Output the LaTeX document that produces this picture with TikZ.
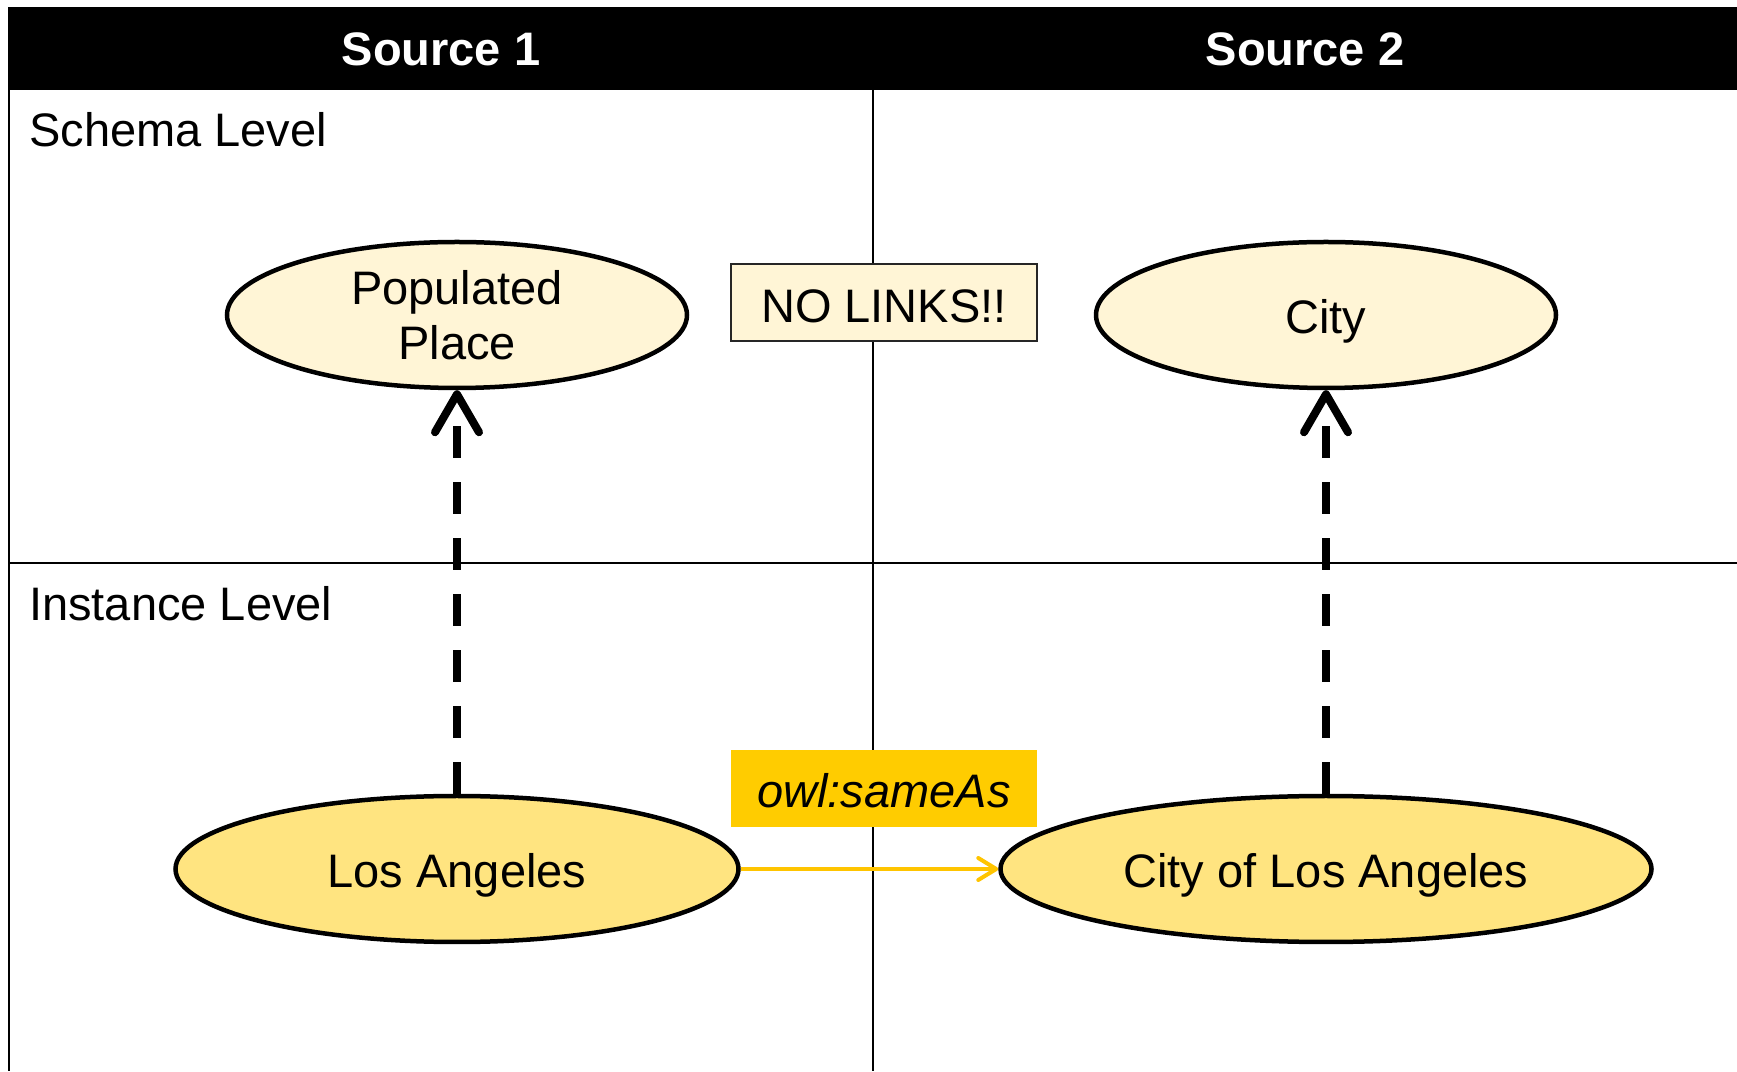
\documentclass[tikz,border=0pt]{standalone}
\usepackage{fontspec}
\setmainfont{Liberation Sans}
\usetikzlibrary{arrows.meta, shapes.geometric, positioning}

\definecolor{cream}{HTML}{FFF5D6}
\definecolor{lightgold}{HTML}{FFE480}
\definecolor{gold}{HTML}{FFCC00}
\definecolor{linkgold}{HTML}{FFC400}

\newcommand{\diagfont}{\fontsize{47}{55}\selectfont}

\begin{document}
\begin{tikzpicture}[
    x=1pt, y=1pt,
    grid/.style={black, line width=2.5pt}, % Table lines
    header/.style={text=white, font=\diagfont\bfseries, anchor=base, inner sep=0pt}, % Column titles
    level/.style={font=\diagfont, anchor=base west, inner sep=0pt}, % Row titles
    schema/.style={ellipse, draw, line width=4.5pt, fill=cream, inner sep=0pt,
        font=\diagfont, align=center, minimum width=460pt, minimum height=146pt}, % Classes
    instance/.style={schema, fill=lightgold, minimum height=146pt}, % Resources
    oneline/.style={text height=48pt, text depth=10pt}, % Single line labels sit a bit low
    tag/.style={font=\diagfont, minimum width=306pt, minimum height=77pt, inner sep=0pt}, % Boxed notes
    typelink/.style={line width=8pt, dash pattern=on 32pt off 24pt,
        -{Straight Barb[length=38pt, width=44pt, round]}}, % rdf:type arrows
    samelink/.style={draw=linkgold, line width=4pt,
        -{Straight Barb[length=18pt, width=22pt, round]}} % Link between sources
]

    \useasboundingbox (0,0) rectangle (1737,1071);

    % Header band
    \fill[black] (8,1064) rectangle (1737,981);
    \node[header] (src1) at (441,1005) {Source 1};
    \node[header] (src2) at (1305,1005) {Source 2};

    % Table lines
    \draw[grid] (9,981) -- (9,0);
    \draw[grid] (873,981) -- (873,0);
    \draw[grid] (9,508) -- (1737,508);

    % Row titles
    \node[level] (schemalvl) at (29,924) {Schema Level};
    \node[level] (instlvl) at (29,450) {Instance Level};

    % Schema level
    \node[schema] (pop) at (457,756) {Populated\\Place};
    \node[schema, oneline] (city) at (1326,756) {City};
    \node[tag, draw=black!85, line width=2pt, fill=cream, text height=41pt, text depth=0pt] (nolinks) at (884,768.5) {NO LINKS!!};

    % Instance level
    \node[instance, oneline, minimum width=563pt] (la) at (457,202) {Los Angeles};
    \node[instance, oneline, minimum width=651pt] (cla) at (1326,202) {City of Los Angeles};
    \node[tag, fill=gold, font=\diagfont\itshape, text height=38pt, text depth=0pt] (sameas) at (884,282.5) {owl:sameAs};

    % Arrows
    \draw[typelink] (la.north) -- (pop.south);
    \draw[typelink] (cla.north) -- (city.south);
    \draw[samelink] (la.east) -- (cla.west);

\end{tikzpicture}
\end{document}
